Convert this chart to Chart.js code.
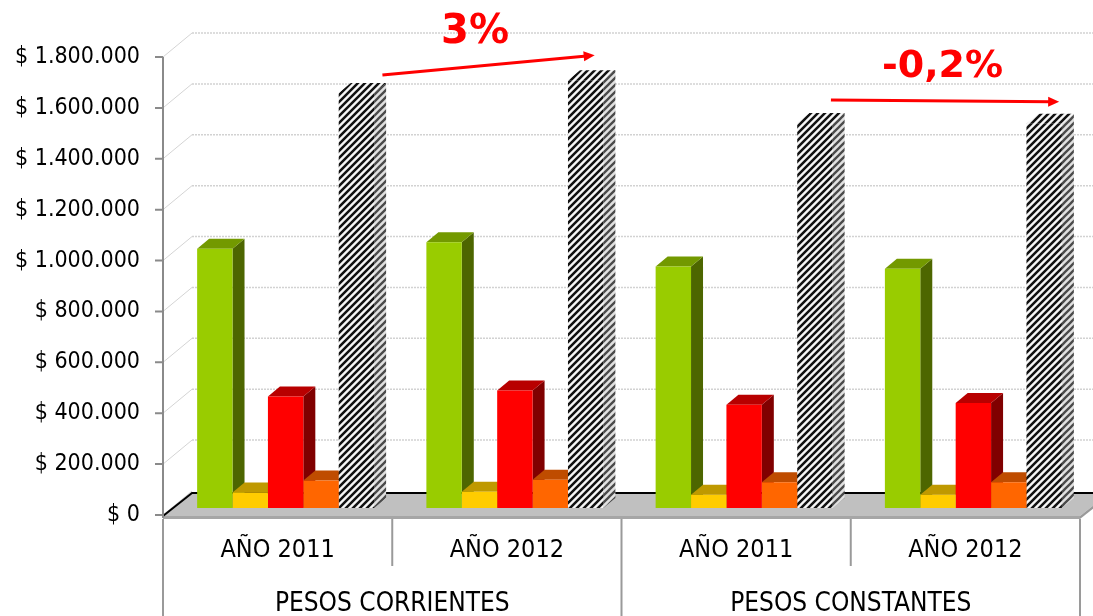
<!DOCTYPE html>
<html>
<head>
<meta charset="utf-8">
<title>Pesos corrientes y constantes</title>
<style>
html, body { margin: 0; padding: 0; background: #ffffff; }
#wrap { position: relative; width: 1093px; height: 616px; }
</style>
</head>
<body>
<div id="wrap"><canvas id="chart"></canvas></div>
<script src="https://cdn.jsdelivr.net/npm/chart.js"></script>
<script>
// datos
const years = ['AÑO 2011', 'AÑO 2012', 'AÑO 2011', 'AÑO 2012'];
const groups = ['PESOS CORRIENTES', 'PESOS CONSTANTES'];
const verde = [1019000, 1044000, 949000, 940000];
const amarillo = [61000, 64000, 52000, 52000];
const rojo = [438000, 462000, 406000, 413000];
const naranja = [108000, 111000, 101000, 101000];
const total = [1631000, 1681000, 1513000, 1510000];
const yTicks = [0, 200000, 400000, 600000, 800000, 1000000, 1200000, 1400000, 1600000, 1800000];
const notes = ['3%', '-0,2%'];

const FONT = "'DejaVu Sans Condensed', 'DejaVu Sans', sans-serif";
const DEPTH = { dx: 12, dy: -10 };    // profundidad de cada barra
const FRONT = { dx: -8, dy: 7 };      // plano frontal (eje)
const BACK = { dx: 21, dy: -17 };     // pared del fondo

function stripes(fg, bg, w) {
  const n = 7;
  const c = document.createElement('canvas');
  c.width = n; c.height = n;
  const g = c.getContext('2d');
  g.fillStyle = bg; g.fillRect(0, 0, n, n);
  g.strokeStyle = fg; g.lineWidth = w;
  g.beginPath();
  // lineas x + y = 0, n, 2n
  g.moveTo(-2, 2); g.lineTo(2, -2);
  g.moveTo(-1, n + 1); g.lineTo(n + 1, -1);
  g.moveTo(n - 2, n + 2); g.lineTo(n + 2, n - 2);
  g.stroke();
  return document.getElementById('chart').getContext('2d').createPattern(c, 'repeat');
}
const hatchFront = stripes('#111111', '#f6f6f6', 2.5);
const hatchSide = stripes('#4a4a4a', '#e0e0e0', 2.3);

const faces = [
  { front: '#99cc00', top: '#739900', side: '#4d6600' },
  { front: '#ffcc00', top: '#bf9900', side: '#806600' },
  { front: '#ff0000', top: '#b80000', side: '#800000' },
  { front: '#ff6600', top: '#bf4c00', side: '#803300' },
  { front: hatchFront, top: hatchFront, side: hatchSide }
];

function fmt(v) {
  return '$ ' + String(v).replace(/\B(?=(\d{3})+(?!\d))/g, '.');
}

function poly(ctx, pts, fill) {
  ctx.beginPath();
  ctx.moveTo(pts[0][0], pts[0][1]);
  for (let i = 1; i < pts.length; i++) ctx.lineTo(pts[i][0], pts[i][1]);
  ctx.closePath();
  ctx.fillStyle = fill;
  ctx.fill();
}

const box3d = {
  id: 'box3d',
  beforeDatasetsDraw(chart) {
    const ctx = chart.ctx, a = chart.chartArea, y = chart.scales.y;
    const y0 = y.getPixelForValue(0);
    const xl = a.left, xr = a.right;
    ctx.save();
    // paredes: lineas del fondo y diagonales del lateral
    yTicks.forEach(v => {
      const p = y.getPixelForValue(v);
      ctx.setLineDash([]);
      ctx.strokeStyle = '#d4d4d4'; ctx.lineWidth = 1;
      ctx.beginPath();
      ctx.moveTo(xl + FRONT.dx, p + FRONT.dy);
      ctx.lineTo(xl + BACK.dx, p + BACK.dy);
      ctx.stroke();
      if (v > 0) {
        ctx.setLineDash([2, 1]);
        ctx.strokeStyle = '#d2d2d2'; ctx.lineWidth = 1.5;
        ctx.beginPath();
        ctx.moveTo(xl + BACK.dx, p + BACK.dy);
        ctx.lineTo(chart.width, p + BACK.dy);
        ctx.stroke();
      }
    });
    ctx.setLineDash([]);
    // piso
    const fy = y0 + 8, by = y0 - 15;
    poly(ctx, [[xl - 8, fy], [xl + 21, by], [xr + 21, by], [xr - 8, fy]], '#c0c0c0');
    poly(ctx, [[xl - 8, fy], [xr - 8, fy], [xr - 8, fy + 3], [xl - 8, fy + 3]], '#a6a6a6');
    poly(ctx, [[xr - 8, fy], [xr + 21, by], [xr + 21, by + 3], [xr - 8, fy + 3]], '#9a9a9a');
    ctx.strokeStyle = '#000000'; ctx.lineWidth = 2;
    ctx.beginPath();
    ctx.moveTo(xl - 8, fy); ctx.lineTo(xl + 21, by); ctx.lineTo(xr + 21, by);
    ctx.stroke();
    // eje vertical frontal
    ctx.strokeStyle = '#8a8a8a'; ctx.lineWidth = 2;
    ctx.beginPath();
    ctx.moveTo(xl + FRONT.dx, y.getPixelForValue(yTicks[yTicks.length - 1]) + FRONT.dy);
    ctx.lineTo(xl + FRONT.dx, fy + 2);
    yTicks.forEach(v => {
      const p = y.getPixelForValue(v) + FRONT.dy;
      ctx.moveTo(xl + FRONT.dx - 8, p);
      ctx.lineTo(xl + FRONT.dx, p);
    });
    ctx.stroke();
    // caras laterales y superiores, de izquierda a derecha
    const metas = chart.data.datasets.map((d, i) => chart.getDatasetMeta(i));
    years.forEach((c, j) => {
      metas.forEach((meta, i) => {
        const bar = meta.data[j], f = faces[i];
        const p = bar.getProps(['x', 'y', 'base', 'width'], true);
        const l = p.x - p.width / 2, r = p.x + p.width / 2;
        poly(ctx, [[r, p.y], [r + DEPTH.dx, p.y + DEPTH.dy], [r + DEPTH.dx, p.base + DEPTH.dy], [r, p.base]], f.side);
        poly(ctx, [[l, p.y], [l + DEPTH.dx, p.y + DEPTH.dy], [r + DEPTH.dx, p.y + DEPTH.dy], [r, p.y]], f.top);
      });
    });
    ctx.restore();
  },
  afterDraw(chart) {
    const ctx = chart.ctx, a = chart.chartArea, y = chart.scales.y;
    const fy = y.getPixelForValue(0) + 8;
    const cw = (a.right - a.left) / years.length;
    ctx.save();
    ctx.strokeStyle = '#9a9a9a'; ctx.lineWidth = 2;
    ctx.beginPath();
    for (let i = 0; i <= years.length; i++) {
      const x = a.left + FRONT.dx + i * cw;
      ctx.moveTo(x, fy + 3);
      ctx.lineTo(x, i % 2 === 0 ? chart.height : fy + 50);
    }
    ctx.stroke();
    // variaciones entre los totales
    const tot = chart.getDatasetMeta(4).data;
    const arrows = [
      { a: tot[0], b: tot[1], s: [26, -18], e: [9, -25], t: [4, -37], size: 40 },
      { a: tot[2], b: tot[3], s: [16, -23], e: [15, -22], t: [13, -46], size: 38 }
    ];
    arrows.forEach((ar, i) => {
      const x1 = ar.a.x + ar.s[0], y1 = ar.a.y + ar.s[1];
      const x2 = ar.b.x + ar.e[0], y2 = ar.b.y + ar.e[1];
      const ang = Math.atan2(y2 - y1, x2 - x1);
      ctx.strokeStyle = '#ff0000'; ctx.fillStyle = '#ff0000'; ctx.lineWidth = 3;
      ctx.beginPath();
      ctx.moveTo(x1, y1);
      ctx.lineTo(x2 - 8 * Math.cos(ang), y2 - 8 * Math.sin(ang));
      ctx.stroke();
      ctx.beginPath();
      ctx.moveTo(x2, y2);
      ctx.lineTo(x2 - 11 * Math.cos(ang) + 5 * Math.sin(ang), y2 - 11 * Math.sin(ang) - 5 * Math.cos(ang));
      ctx.lineTo(x2 - 11 * Math.cos(ang) - 5 * Math.sin(ang), y2 - 11 * Math.sin(ang) + 5 * Math.cos(ang));
      ctx.closePath();
      ctx.fill();
      ctx.font = 'bold ' + ar.size + "px 'DejaVu Sans', sans-serif";
      ctx.textAlign = 'center';
      ctx.textBaseline = 'alphabetic';
      ctx.fillText(notes[i], (ar.a.x + ar.b.x) / 2 + ar.t[0], Math.min(ar.a.y, ar.b.y) + ar.t[1]);
    });
    ctx.restore();
  }
};

const ds = (data, i) => ({
  data: data,
  backgroundColor: faces[i].front,
  borderWidth: 0,
  categoryPercentage: 0.772,
  barPercentage: 1
});

new Chart(document.getElementById('chart'), {
  type: 'bar',
  data: {
    labels: years,
    datasets: [ds(verde, 0), ds(amarillo, 1), ds(rojo, 2), ds(naranja, 3), ds(total, 4)]
  },
  options: {
    responsive: true,
    maintainAspectRatio: false,
    animation: false,
    layout: { padding: { top: 50, right: 5, bottom: 0, left: 0 } },
    plugins: { legend: { display: false }, tooltip: { enabled: false } },
    scales: {
      x: {
        type: 'category', position: 'bottom', weight: 0, offset: true,
        grid: { display: false }, border: { display: false },
        ticks: { color: '#000', font: { family: FONT, size: 25 }, padding: 19, labelOffset: -8, maxRotation: 0, autoSkip: false },
        afterFit: s => { s.height = 60; }
      },
      x2: {
        type: 'category', position: 'bottom', weight: 1, offset: true, labels: groups,
        grid: { display: false }, border: { display: false },
        ticks: { color: '#000', font: { family: FONT, size: 26 }, padding: 13, labelOffset: -8, maxRotation: 0, autoSkip: false },
        afterFit: s => { s.height = 48; }
      },
      y: {
        min: 0, max: 1800000,
        grid: { display: false }, border: { display: false },
        ticks: { stepSize: 200000, color: '#000', font: { family: FONT, size: 23 }, padding: 23, labelOffset: 7, callback: v => fmt(v) },
        afterFit: s => { s.width = 171; }
      }
    }
  },
  plugins: [box3d]
});
</script>
</body>
</html>
